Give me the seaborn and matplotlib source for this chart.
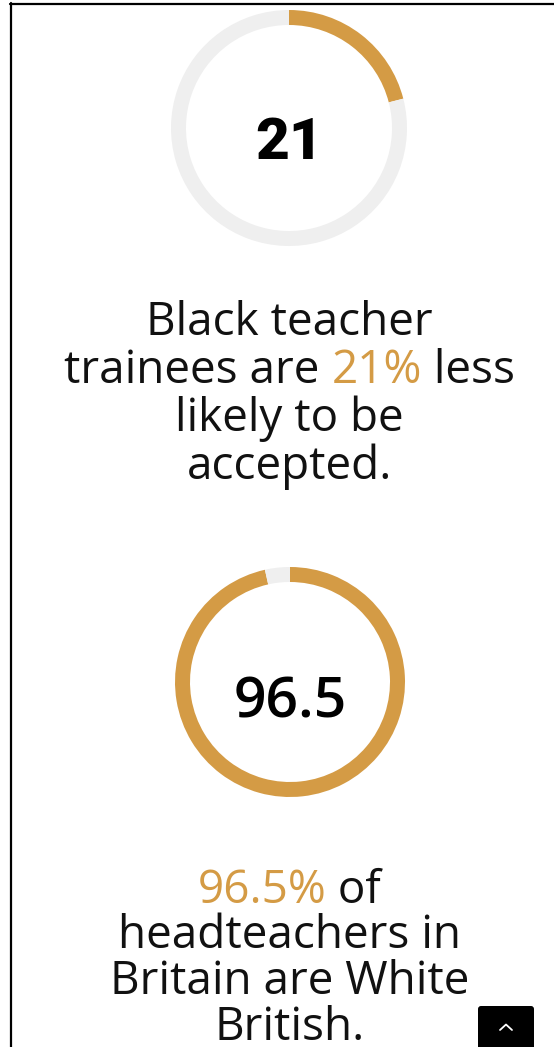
import matplotlib
matplotlib.use("Agg")
import matplotlib.pyplot as plt
import seaborn as sns
from matplotlib.patches import FancyBboxPatch
from matplotlib.lines import Line2D

# ---------------- data ----------------
percent_values = [21, 96.5]
center_labels = ["21", "96.5"]
caption_1 = [
    [("Black teacher", "text")],
    [("trainees are ", "text"), ("21%", "accent"), (" less", "text")],
    [("likely to be", "text")],
    [("accepted.", "text")],
]
caption_2 = [
    [("96.5%", "accent"), (" of", "text")],
    [("headteachers in", "text")],
    [("Britain are White", "text")],
    [("British.", "text")],
]

# ---------------- style ----------------
sns.set_theme(style="white")
plt.rcParams['font.family'] = ['Open Sans', 'DejaVu Sans']
GOLD = "#D49B45"
GREY = "#EFEFEF"
TEXT = "#111111"
colors = {"text": TEXT, "accent": GOLD}

W, H = 554, 1047
fig = plt.figure(figsize=(W / 100, H / 100), dpi=100)
fig.patch.set_facecolor("white")
bg = fig.add_axes([0, 0, 1, 1])
bg.set_xlim(0, W)
bg.set_ylim(H, 0)
bg.axis("off")
renderer = fig.canvas.get_renderer()


def donut(value, label, cx, cy, r, thick, lsize, lweight, ly, lfam):
    ax = fig.add_axes([(cx - r) / W, (H - cy - r) / H, 2 * r / W, 2 * r / H])
    ax.pie([value, 100 - value], colors=[GOLD, GREY], startangle=90,
           counterclock=False, radius=1,
           wedgeprops=dict(width=thick / r, linewidth=0))
    ax.set_xlim(-1, 1)
    ax.set_ylim(-1, 1)
    ax.axis("off")
    bg.text(cx, ly, label, ha="center", va="baseline", fontsize=lsize,
            fontweight=lweight, color="black", family=lfam)


def width_of(s, size):
    t = bg.text(0, 0, s, fontsize=size)
    w = t.get_window_extent(renderer).width
    t.remove()
    return w


def caption(lines, cx, base0, step, size):
    lw = width_of("l", size)
    for i, segs in enumerate(lines):
        full = "".join(s for s, _ in segs)
        total = width_of(full, size)
        x0 = cx - total / 2
        prefix = ""
        for s, key in segs:
            off = width_of(prefix + "l", size) - lw if prefix else 0
            bg.text(x0 + off, base0 + i * step, s, fontsize=size,
                    color=colors[key], ha="left", va="baseline")
            prefix += s


donut(percent_values[0], center_labels[0], 289, 128, 118, 15, 42, 900, 159,
      ["Roboto", "DejaVu Sans"])
donut(percent_values[1], center_labels[1], 290, 682, 115, 15, 41, 600, 718,
      ["Open Sans", "DejaVu Sans"])

caption(caption_1, 289.5, 335, 48, 33)
caption(caption_2, 289.5, 903, 45.5, 33)

# frame
bg.add_line(Line2D([11, 11], [3, H], color="black", lw=1.6))
bg.add_line(Line2D([10, W], [4, 4], color="black", lw=1.6))

# back-to-top button
btn = FancyBboxPatch((478, 1006), 56, 50, boxstyle="round,pad=0,rounding_size=3",
                     facecolor="black", edgecolor="none")
bg.add_patch(btn)
bg.add_line(Line2D([500, 506, 512], [1030, 1024.5, 1030], color="white",
                   lw=1.3, solid_capstyle="round", solid_joinstyle="round"))

fig.savefig("out.png", dpi=100, facecolor="white")
